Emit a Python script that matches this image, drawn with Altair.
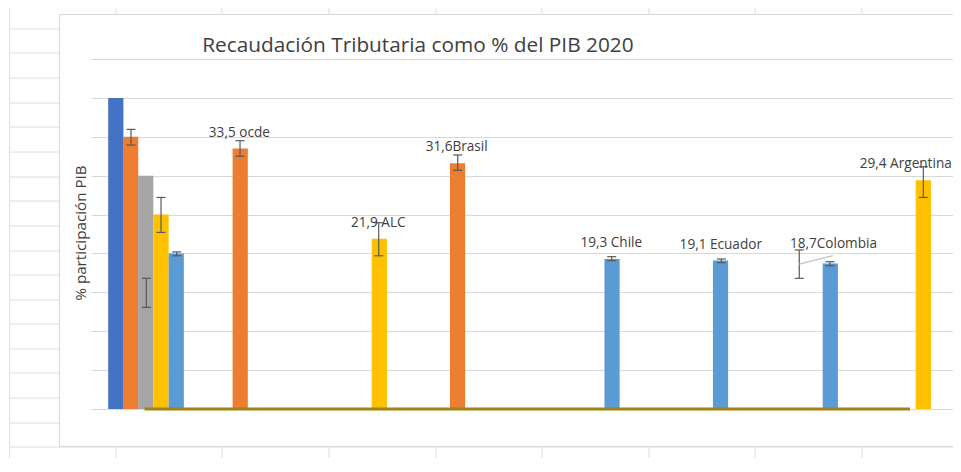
import altair as alt
import pandas as pd

# ---------------- data ----------------
# position of each bar along the category axis (0-100 = reference plot width)
posiciones = [2.85, 4.56, 6.29, 8.05, 9.80, 17.15, 33.14, 42.13, 59.89, 72.36, 84.98, 95.67]
valores = [40, 35, 30, 25, 20, 33.5, 21.9, 31.6, 19.3, 19.1, 18.7, 29.4]
series = ["Serie 1", "Serie 2", "Serie 3", "Serie 4", "Serie 5",
          "Serie 2", "Serie 4", "Serie 2", "Serie 5", "Serie 5", "Serie 5", "Serie 4"]

# error bars
err_pos = [4.60, 6.36, 8.05, 9.85, 17.13, 33.07, 42.15, 59.85, 72.45, 84.94, 81.41, 95.67]
err_bajo = [33.94, 13.07, 22.7, 19.7, 32.5, 19.7, 30.69, 19.07, 18.81, 18.42, 16.8, 27.2]
err_alto = [35.95, 16.8, 27.2, 20.2, 34.5, 23.95, 32.66, 19.58, 19.29, 18.94, 20.45, 31.15]

# data labels
etiquetas = ["33,5 ocde", "21,9 ALC", "31,6Brasil", "19,3 Chile",
             "19,1 Ecuador", "18,7Colombia", "29,4 Argentina"]
etq_x = [17.05, 33.02, 42.03, 59.80, 72.39, 85.34, 93.65]
etq_y = [35.01, 23.44, 33.13, 20.79, 20.53, 20.74, 31.02]

# flat (zero) line series
linea_x = [6.16, 94.14]
linea_y = [0.0, 0.0]

# leader line of the Colombia label
guia_x = [81.41, 85.25]
guia_y = [18.64, 19.71]

titulo = "Recaudación Tributaria como % del PIB 2020"
titulo_eje = "% participación PIB"

series_dom = ["Serie 1", "Serie 2", "Serie 3", "Serie 4", "Serie 5"]
series_col = ["#4472C4", "#ED7D31", "#A5A5A5", "#FFC000", "#5B9BD5"]

# ---------------- layout ----------------
PX_X = 8.7               # pixels per x unit
W = 862                  # plot width shown (reference plot continues past the edge)
H = 350
X0, Y0 = 91, 59          # plot origin in page pixels
PX_Y = H / 45.0


def ux(px):
    return (px - X0) / PX_X


def uy(py):
    return (Y0 + H - py) / PX_Y


# spreadsheet grid behind the chart (decoration, page pixels)
hoja_cols = [116, 222, 329, 436, 542, 649, 755, 862]
hoja_filas = [29, 53, 78, 103, 127, 152, 177, 201, 226, 251, 275, 300,
              324, 349, 373, 398, 423]
segs = [(9.5, 9.5, 0, 480), (9.5, 1000, 447, 447)]
for c in hoja_cols:
    segs.append((c, c, 0, 14.5))
    segs.append((c, c, 446.5, 480))
for r in hoja_filas:
    segs.append((9.5, 59.5, r, r))
decor = pd.DataFrame({
    "x": [ux(s[0]) for s in segs], "x2": [ux(s[1]) for s in segs],
    "y": [uy(s[2]) for s in segs], "y2": [uy(s[3]) for s in segs],
})

xs = alt.Scale(domain=[0, W / PX_X], nice=False, zero=False, padding=0)
ys = alt.Scale(domain=[0, 45], nice=False, zero=True, padding=0)
yaxis = alt.Axis(values=list(range(0, 50, 5)), grid=True, gridColor="#d9d9d9",
                 gridWidth=1, labels=False, ticks=False, domain=False,
                 title=titulo_eje, titleFont="Open Sans", titleFontSize=15.2,
                 titleFontWeight="normal", titleColor="#404040", titleAngle=270,
                 titleAlign="center", titleBaseline="middle",
                 titleX=80 - X0, titleY=232.5 - Y0)


def X(f):
    return alt.X(f, scale=xs, axis=None)


def Y(f):
    return alt.Y(f, scale=ys, axis=yaxis)


hoja = alt.Chart(decor).mark_rule(color="#dedede", strokeWidth=1).encode(
    x=X("x:Q"), x2="x2:Q", y=Y("y:Q"), y2="y2:Q")

marco_df = pd.DataFrame({"x": [ux(59.5)], "x2": [ux(1000)],
                         "y": [uy(14.5)], "y2": [uy(446.5)]})
marco = alt.Chart(marco_df).mark_rect(fillOpacity=0, stroke="#d9d9d9",
                                      strokeWidth=1).encode(
    x=X("x:Q"), x2="x2:Q", y=Y("y:Q"), y2="y2:Q")

df_barras = pd.DataFrame({"posicion": posiciones, "valor": valores, "serie": series})
barras = alt.Chart(df_barras).mark_bar(size=15.2).encode(
    x=X("posicion:Q"), y=Y("valor:Q"),
    color=alt.Color("serie:N", scale=alt.Scale(domain=series_dom, range=series_col),
                    legend=None))

df_linea = pd.DataFrame({"x": [linea_x[0]], "x2": [linea_x[1]], "y": [linea_y[0]]})
linea = alt.Chart(df_linea).mark_rule(color="#A08317", strokeWidth=3).encode(
    x=X("x:Q"), x2="x2:Q", y=Y("y:Q"))

df_err = pd.DataFrame({"pos": err_pos, "bajo": err_bajo, "alto": err_alto})
err_v = alt.Chart(df_err).mark_rule(color="#595959", strokeWidth=1.2).encode(
    x=X("pos:Q"), y=Y("bajo:Q"), y2="alto:Q")
cap_b = alt.Chart(df_err).mark_rule(color="#595959", strokeWidth=1.2,
                                    xOffset=-4.5, x2Offset=4.5).encode(
    x=X("pos:Q"), x2="pos:Q", y=Y("bajo:Q"))
cap_a = alt.Chart(df_err).mark_rule(color="#595959", strokeWidth=1.2,
                                    xOffset=-4.5, x2Offset=4.5).encode(
    x=X("pos:Q"), x2="pos:Q", y=Y("alto:Q"))

df_guia = pd.DataFrame({"x": [guia_x[0]], "x2": [guia_x[1]],
                        "y": [guia_y[0]], "y2": [guia_y[1]]})
guia = alt.Chart(df_guia).mark_rule(color="#c4c4c4", strokeWidth=1.3).encode(
    x=X("x:Q"), x2="x2:Q", y=Y("y:Q"), y2="y2:Q")

df_etq = pd.DataFrame({"x": etq_x, "y": etq_y, "t": etiquetas})
textos = alt.Chart(df_etq).mark_text(font="Open Sans", fontSize=13.6, color="#404040",
                                     align="center", baseline="alphabetic").encode(
    x=X("x:Q"), y=Y("y:Q"), text="t:N")

df_tit = pd.DataFrame({"x": [ux(417.9)], "y": [uy(52.3)], "t": [titulo]})
tit = alt.Chart(df_tit).mark_text(font="Open Sans", fontSize=20.8, color="#404040",
                                  align="center", baseline="alphabetic").encode(
    x=X("x:Q"), y=Y("y:Q"), text="t:N")

chart = alt.layer(hoja, marco, barras, linea, err_v, cap_b, cap_a, guia, textos, tit).properties(
    width=W, height=H,
    autosize=alt.AutoSizeParams(type="none"),
    padding={"left": X0 - 8, "top": Y0 - 8, "right": 0, "bottom": 49},
    background="white",
).configure_view(stroke="transparent")

chart.save("out.html", embed_options={"renderer": "svg", "actions": False})
